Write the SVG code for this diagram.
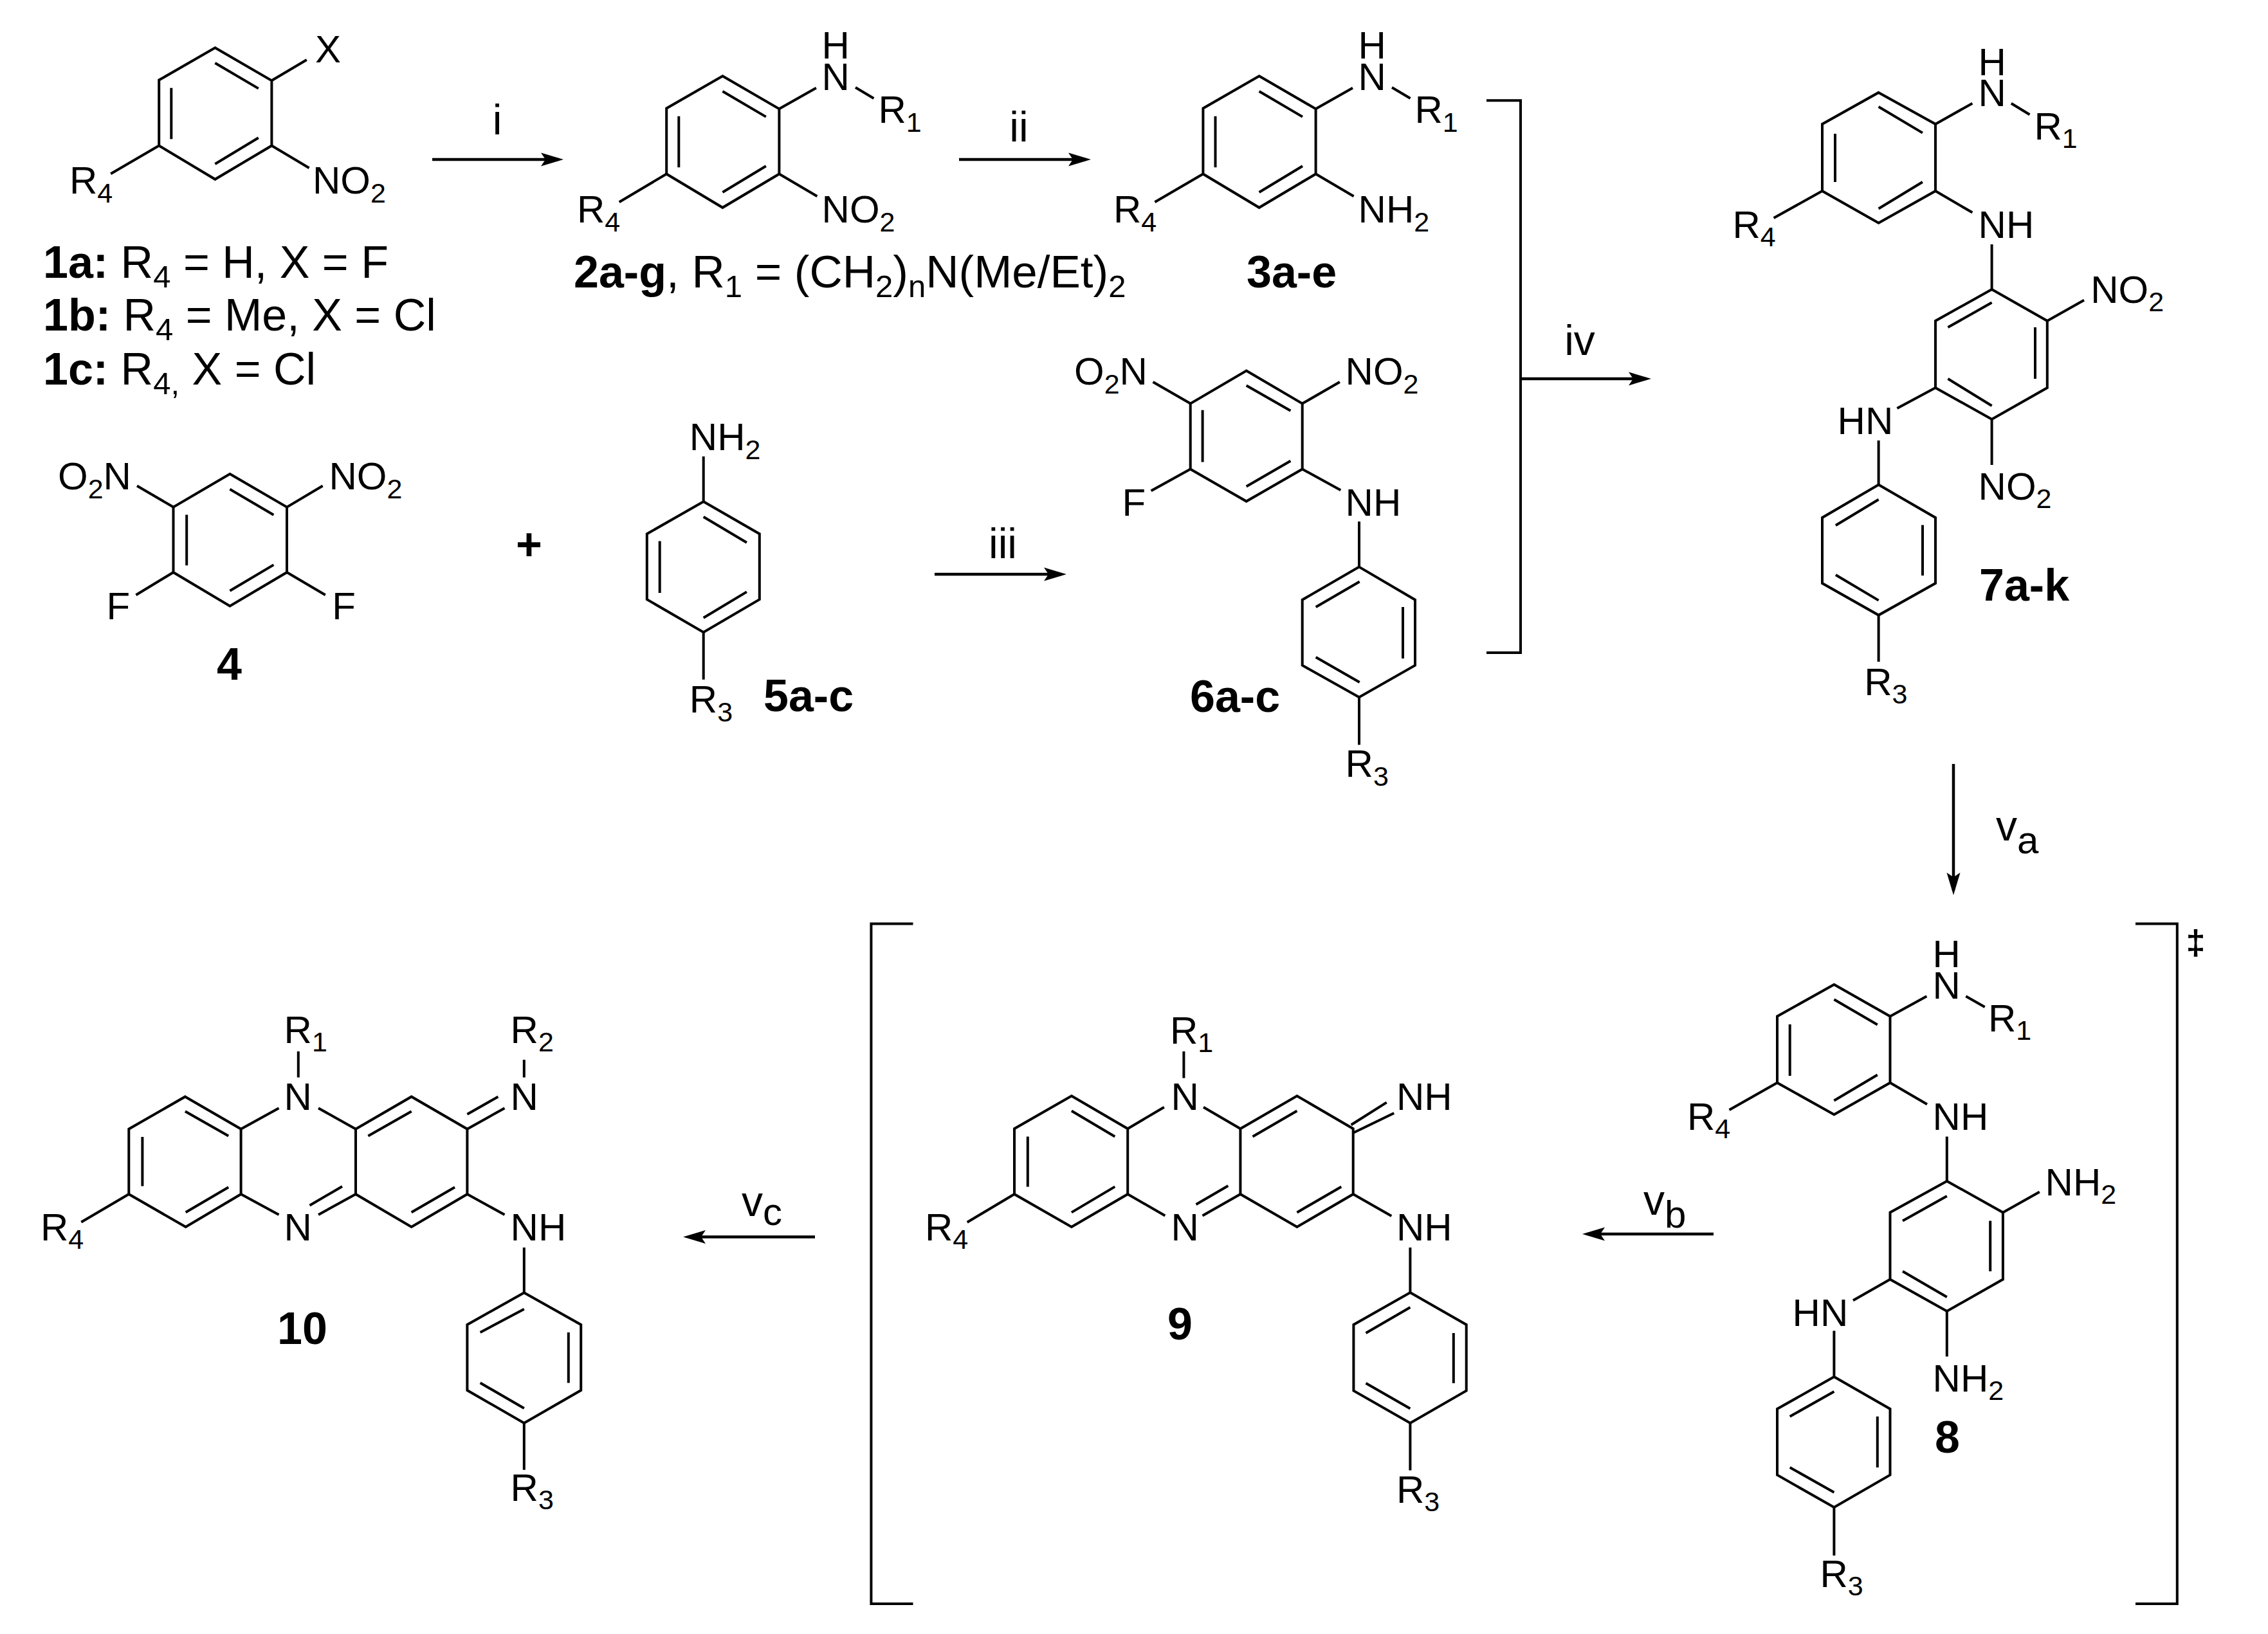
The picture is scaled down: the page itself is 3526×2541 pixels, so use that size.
<svg xmlns="http://www.w3.org/2000/svg" width="3526" height="2541" viewBox="0 0 3526 2541">
<style>
text{font-family:"Liberation Sans",Arial,sans-serif;fill:#000;font-size:60px}
.s{font-size:43px}
.c{font-size:70px}
.cs{font-size:49px}
.bd{font-weight:bold;font-size:70px}
.r{font-size:66px}
.rs{font-size:60px}
.b{fill:none;stroke:#000;stroke-width:4;stroke-linejoin:miter;stroke-linecap:butt}
.a{fill:none;stroke:#000;stroke-width:4.5;marker-end:url(#ah)}
</style>
<defs>
<marker id="ah" markerUnits="userSpaceOnUse" markerWidth="36" markerHeight="22" refX="27" refY="10.5" orient="auto" viewBox="0 0 36 21">
<path d="M0 0L35 10.5L0 21L7 10.5Z" fill="#000"/>
</marker>
</defs>
<rect width="3526" height="2541" fill="#fff"/>

<g id="connectors">
<path class="a" d="M672 248H868"/>
<path class="a" d="M1491 248H1688"/>
<path class="a" d="M1453 893H1650"/>
<path class="a" d="M2363 589H2559"/>
<path class="a" d="M3037 1188V1384"/>
<path class="a" d="M2664 1919H2468"/>
<path class="a" d="M1267 1923.5H1070"/>
<path class="b" d="M2311 156.3H2364V1015H2311"/>
<path class="b" d="M1419.5 1436.4H1354.4V2494H1419.5"/>
<path class="b" d="M3320 1436.4H3384.8V2494H3320"/>
<text class="r" x="773" y="209" text-anchor="middle">i</text>
<text class="r" x="1584" y="220" text-anchor="middle">ii</text>
<text class="r" x="1559" y="868" text-anchor="middle">iii</text>
<text class="r" x="2456" y="552" text-anchor="middle">iv</text>
<text class="r" x="3103" y="1307">v<tspan class="rs" dy="20">a</tspan></text>
<text class="r" x="2555" y="1889">v<tspan class="rs" dy="20">b</tspan></text>
<text class="r" x="1153" y="1891">v<tspan class="rs" dy="14">c</tspan></text>
<text x="3413.6" y="1484" text-anchor="middle" style="font-size:54px;font-weight:bold">‡</text>
<text class="bd" x="822.5" y="871" text-anchor="middle">+</text>
</g>

<g id="node-1">
<path class="b" d="M334.4 74.3L422.4 125.3V226.5L334.4 278.8L247.2 226.5V124.5Z"/>
<path class="b" d="M334.4 98L401.8 137.6M266.3 136.7V216.3M401.8 214.3L334.4 255M422.4 125.3L476.8 93M422.4 226.5L480.6 261.2M247.2 226.5L172.2 270.2"/>
<text x="490" y="97">X</text>
<text x="486" y="301">NO<tspan class="s" dy="14">2</tspan></text>
<text x="108" y="301">R<tspan class="s" dy="14">4</tspan></text>
<text class="c" x="67" y="432"><tspan class="bd">1a:</tspan> R<tspan class="cs" dy="15">4</tspan><tspan dy="-15"> = H, X = F</tspan></text>
<text class="c" x="67" y="514"><tspan class="bd">1b:</tspan> R<tspan class="cs" dy="15">4</tspan><tspan dy="-15"> = Me, X = Cl</tspan></text>
<text class="c" x="67" y="598"><tspan class="bd">1c:</tspan> R<tspan class="cs" dy="15">4,</tspan><tspan dy="-15"> X = Cl</tspan></text>
</g>

<g id="node-2">
<path class="b" d="M1123.4 118.3L1211.4 169.3V270.5L1123.4 322.8L1036.2 270.5V168.5Z"/>
<path class="b" d="M1123.4 142L1190.8 181.6M1055.3 180.7V260.3M1190.8 258.3L1123.4 299M1211.4 169.3L1268.9 136.7M1330 136L1358.4 153M1211.4 270.5L1270.4 305.3M1036.2 270.5L962.7 314.3"/>
<text x="1277.6" y="90.6">H</text>
<text x="1277.6" y="140">N</text>
<text x="1365.5" y="191">R<tspan class="s" dy="14">1</tspan></text>
<text x="1277.6" y="346">NO<tspan class="s" dy="14">2</tspan></text>
<text x="897" y="346">R<tspan class="s" dy="14">4</tspan></text>
<text class="c" x="892" y="447" style="font-size:71px"><tspan class="bd">2a-g</tspan>, R<tspan class="cs" dy="15">1</tspan><tspan dy="-15"> = (CH</tspan><tspan class="cs" dy="15">2</tspan><tspan dy="-15">)</tspan><tspan class="cs" dy="15">n</tspan><tspan dy="-15">N(Me/Et)</tspan><tspan class="cs" dy="15">2</tspan></text>
</g>

<g id="node-3">
<path class="b" d="M1957.6 118.3L2045.6 169.3V270.5L1957.6 322.8L1870.4 270.5V168.5Z"/>
<path class="b" d="M1957.6 142L2025 181.6M1889.5 180.7V260.3M2025 258.3L1957.6 299M2045.6 169.3L2103 136.7M2164 136L2192.6 153M2045.6 270.5L2104.6 305.3M1870.4 270.5L1795.4 314.3"/>
<text x="2111.6" y="90.6">H</text>
<text x="2111.6" y="140">N</text>
<text x="2199.5" y="191">R<tspan class="s" dy="14">1</tspan></text>
<text x="2111.6" y="346">NH<tspan class="s" dy="14">2</tspan></text>
<text x="1731" y="346">R<tspan class="s" dy="14">4</tspan></text>
<text class="bd" x="1938" y="447">3a-e</text>
</g>

<g id="node-4">
<path class="b" d="M357.4 737L446 788.6V890L357.4 942.4L269.5 890V788.6Z"/>
<path class="b" d="M357.4 760.8L425.4 800.8M290.2 800.4V879.2M425.4 878.4L357.4 918.8M269.5 788.6L213 755.5M446 788.6L501.7 755.5M269.5 890L211.4 925.3M446 890L505.8 925.3"/>
<text x="90" y="761">O<tspan class="s" dy="14">2</tspan><tspan dy="-14">N</tspan></text>
<text x="511.4" y="761">NO<tspan class="s" dy="14">2</tspan></text>
<text x="165.5" y="963">F</text>
<text x="516.2" y="963">F</text>
<text class="bd" x="337" y="1057">4</text>
</g>

<g id="node-5">
<path class="b" d="M1093.7 780L1180.8 830.2V932.2L1093.7 983.3L1005.8 932.2V830.2Z"/>
<path class="b" d="M1093.7 803.7L1160.9 843.7M1025.7 841.6V922M1160.9 920.4L1093.7 960.8M1093.7 780V709.8M1093.7 983.3V1056.7"/>
<text x="1071.8" y="700.4">NH<tspan class="s" dy="14">2</tspan></text>
<text x="1071.8" y="1107.8">R<tspan class="s" dy="14">3</tspan></text>
<text class="bd" x="1187" y="1105.7">5a-c</text>
</g>

<g id="node-6">
<path class="b" d="M1937.7 576.5L2024.7 627.6V729.6L1937.7 779.6L1850.7 729.6V627.6Z"/>
<path class="b" d="M1937.7 599.5L2006.4 638.8M1869.6 637.8V718.4M2006.4 716.8L1937.7 756.6M1850.7 627.6L1792.5 593.9M2024.7 627.6L2082.9 593.9M1850.7 729.6L1789.6 763.3M2024.7 729.6L2084.3 762.2M2113 811V881.6"/>
<path class="b" d="M2113 881.6L2200 932.7V1034.7L2113 1084.2L2024.7 1034.7V932.7Z"/>
<path class="b" d="M2045.7 943.9L2113.7 904.6M2181 943.9V1024M2045.7 1022L2113.7 1061M2113 1084.2V1158.2"/>
<text x="1670" y="598">O<tspan class="s" dy="14">2</tspan><tspan dy="-14">N</tspan></text>
<text x="2091.6" y="598">NO<tspan class="s" dy="14">2</tspan></text>
<text x="1744.5" y="802">F</text>
<text x="2091.6" y="802">NH</text>
<text x="2091.6" y="1208">R<tspan class="s" dy="14">3</tspan></text>
<text class="bd" x="1850" y="1107">6a-c</text>
</g>

<g id="node-7">
<path class="b" d="M2920.6 143.9L3009 192.9V297L2920.6 346.7L2833 297V192.9Z"/>
<path class="b" d="M2920.6 166L2988.9 206.6M2853 208V283M2988.9 283L2920.6 324.5M3009 192.9L3066.4 160.7M3126.8 160.7L3155.5 178.3M2833 297L2757.6 339M3009 297L3066.4 330.6M3096.6 380V450"/>
<path class="b" d="M3096.6 450L3182.8 499V603L3096.6 652L3009 603V499Z"/>
<path class="b" d="M3028.4 509L3096.6 470.6M3164 509V589M3028.4 589L3096.6 631M3182.8 499L3240 466.8M3096.6 652V723M3009 603L2949.4 635M2920.6 685V753.8"/>
<path class="b" d="M2920.6 753.8L3009 805V907L2920.6 956.6L2833 907V805Z"/>
<path class="b" d="M2853.9 817L2920.6 776.8M2989 816.6V895M2853.9 894L2920.6 933.6M2920.6 956.6V1029"/>
<text x="3075.6" y="117">H</text>
<text x="3075.6" y="164.5">N</text>
<text x="3162.5" y="216.6">R<tspan class="s" dy="13">1</tspan></text>
<text x="2693.5" y="369.6">R<tspan class="s" dy="13">4</tspan></text>
<text x="3075.6" y="369.6">NH</text>
<text x="3250.2" y="470.6">NO<tspan class="s" dy="13">2</tspan></text>
<text x="3075.6" y="776.8">NO<tspan class="s" dy="13">2</tspan></text>
<text x="2856.6" y="675">HN</text>
<text x="2898.2" y="1080.6">R<tspan class="s" dy="13">3</tspan></text>
<text class="bd" x="3077" y="933.6">7a-k</text>
</g>

<g id="node-8">
<path class="b" d="M2851.4 1531L2938.5 1580.5V1683.8L2851.4 1733.3L2763 1683.8V1580.5Z"/>
<path class="b" d="M2851.4 1554.3L2918.8 1593.6M2782.7 1592.9V1673M2918.8 1671.5L2851.4 1711.5M2938.5 1580.5L2995.4 1549.2M3056.3 1549.2L3085.7 1566M2763 1683.8L2688.5 1726M2938.5 1683.8L2996 1717.3M3026.8 1767.5V1836.7"/>
<path class="b" d="M3026.8 1836.7L3113.9 1885.4V1989.5L3026.8 2039L2938.5 1989.5V1885.4Z"/>
<path class="b" d="M2958 1898.5L3026.8 1860M3094.2 1898.5V1977M2958 1977L3026.8 2017M3113.9 1885.4L3170.8 1853.4M3026.8 2039V2109.6M2938.5 1989.5L2881 2022.3M2851.4 2069.6V2141"/>
<path class="b" d="M2851.4 2141L2938.5 2191V2293.7L2851.4 2344L2763 2293.7V2191Z"/>
<path class="b" d="M2782.7 2202.8L2851.4 2164M2918.8 2202.8V2282M2782.7 2282L2851.4 2320.7M2851.4 2344V2419"/>
<text x="3004.6" y="1504">H</text>
<text x="3004.6" y="1552.8">N</text>
<text x="3091" y="1603.8">R<tspan class="s" dy="13">1</tspan></text>
<text x="2623" y="1756.6">R<tspan class="s" dy="13">4</tspan></text>
<text x="3004.6" y="1756.6">NH</text>
<text x="3179.6" y="1858.5">NH<tspan class="s" dy="13">2</tspan></text>
<text x="3004.6" y="2164.2">NH<tspan class="s" dy="13">2</tspan></text>
<text x="2786.6" y="2062.3">HN</text>
<text x="2829.4" y="2468.4">R<tspan class="s" dy="13">3</tspan></text>
<text class="bd" x="3008" y="2258.8">8</text>
</g>

<g id="node-9">
<path class="b" d="M1665.9 1704.2L1753.2 1755.2V1857L1665.9 1908L1577 1857V1755.2Z"/>
<path class="b" d="M1665.9 1727.5L1733.3 1767.5M1597.8 1767.5V1845.4M1733.3 1845.4L1665.9 1885.4M1753.2 1755.2L1809.8 1721.7M1871 1721.7L1928.4 1755.2M1753.2 1857L1811.3 1890.5M1869.5 1890.5L1928.4 1857M1859.5 1873L1909.3 1844"/>
<path class="b" d="M1928.4 1755.2L2016.4 1704.2L2103.7 1755.2V1857L2016.4 1908L1928.4 1857Z"/>
<path class="b" d="M1947.5 1767.5L2016.4 1727.5M2016.4 1885.4L2085.3 1845.4M2100.6 1749.3L2155.7 1714.4M2103.7 1761.7L2167.2 1731M1840.4 1635V1676.6M1577 1857L1503.7 1900.7M2103.7 1857L2163.3 1891M2192.4 1940V2010"/>
<path class="b" d="M2192.4 2010L2279.7 2060V2162.7L2192.4 2213L2104.4 2162.7V2060Z"/>
<path class="b" d="M2123.5 2073L2192.4 2033M2259.8 2073V2151M2123.5 2151L2192.4 2190.4M2192.4 2213V2286.5"/>
<text x="2171" y="1726">NH</text>
<text x="1820.6" y="1726">N</text>
<text x="1820.6" y="1929">N</text>
<text x="1819" y="1622.7">R<tspan class="s" dy="13">1</tspan></text>
<text x="1438" y="1929">R<tspan class="s" dy="13">4</tspan></text>
<text x="2171" y="1929">NH</text>
<text x="2171" y="2337">R<tspan class="s" dy="13">3</tspan></text>
<text class="bd" x="1815" y="2083">9</text>
</g>

<g id="node-10">
<path class="b" d="M287.9 1705.4L374.6 1755.7V1857L288.7 1908L200.3 1857V1755.7Z"/>
<path class="b" d="M287.9 1728.3L355.2 1766.6M221.4 1767.9V1844.4M355.2 1846.3L288.7 1885.2M374.6 1755.7L433.5 1723.2M495 1723.2L553 1755.7M374.6 1857L433.5 1889M495 1889L553 1857M481.5 1874.4L532 1845"/>
<path class="b" d="M553 1755.7L639.7 1705.4L726.4 1755.7V1857L639.7 1908L553 1857Z"/>
<path class="b" d="M572.4 1766.6L639.7 1728.3M639.7 1885.2L707 1846.3M726.4 1755.7L784.5 1723.2M726.4 1732.8L774.4 1705.4M814.8 1675.4V1648M463.8 1675.4V1635M200.3 1857L126.3 1900.5M726.4 1857L784.5 1889M814.8 1940V2010.2"/>
<path class="b" d="M814.8 2010.2L903.2 2060V2162L814.8 2213L726.4 2162V2060Z"/>
<path class="b" d="M746.6 2072L814.8 2035.7M883.8 2072V2150.5M746.6 2150.5L814.8 2190M814.8 2213V2285.7"/>
<text x="793.6" y="1726.4">N</text>
<text x="441.6" y="1726.4">N</text>
<text x="441.6" y="1929.2">N</text>
<text x="793.6" y="1622.4">R<tspan class="s" dy="13">2</tspan></text>
<text x="441.6" y="1622.4">R<tspan class="s" dy="13">1</tspan></text>
<text x="63" y="1929">R<tspan class="s" dy="13">4</tspan></text>
<text x="793.6" y="1929.2">NH</text>
<text x="793.6" y="2334">R<tspan class="s" dy="13">3</tspan></text>
<text class="bd" x="431" y="2090">10</text>
</g>
</svg>
